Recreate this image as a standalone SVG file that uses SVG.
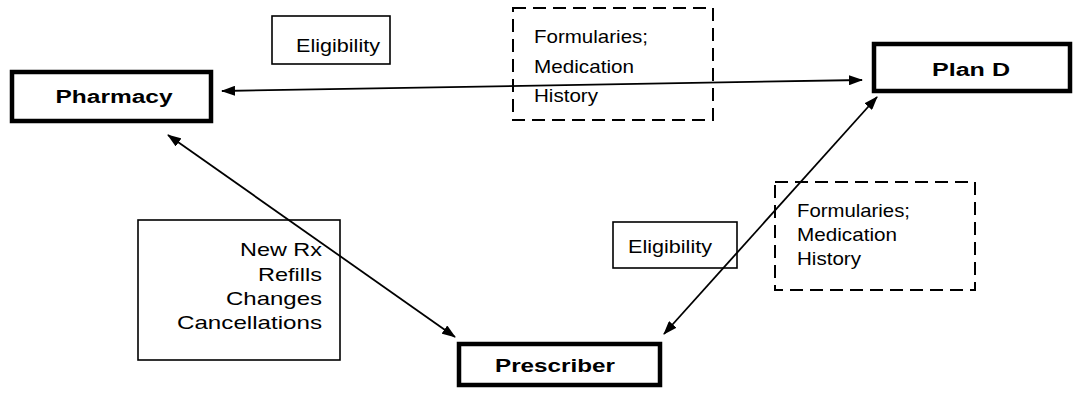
<svg xmlns="http://www.w3.org/2000/svg" width="1077" height="396" viewBox="0 0 1077 396">
<defs>
<style>
.bg{fill:#fff}
.main{fill:#fff;stroke:#000;stroke-width:4.5}
.lab{fill:none;stroke:#000;stroke-width:1.6}
.dash{fill:none;stroke:#000;stroke-width:2;stroke-dasharray:13 7}
.t{font-family:"Liberation Sans",Arial,sans-serif;font-size:19px;fill:#000}
.r{text-anchor:end}
.b{font-family:"Liberation Sans",Arial,sans-serif;font-size:18px;font-weight:bold;fill:#000;text-anchor:middle}
.c{fill:none;stroke:#000;stroke-width:1.8;marker-start:url(#ah);marker-end:url(#ah)}
</style>
<marker id="ah" viewBox="0 0 14 10" refX="13" refY="5" markerWidth="14" markerHeight="10" markerUnits="userSpaceOnUse" orient="auto-start-reverse">
<path d="M0,0 L14,5 L0,10 Z" fill="#000"/>
</marker>
</defs>
<rect class="bg" width="1077" height="396"/>
<g id="elig-top"><rect class="lab" x="272" y="16" width="118" height="48"/><text class="t" x="296" y="52" textLength="84" lengthAdjust="spacingAndGlyphs">Eligibility</text></g>
<g id="form-top"><rect class="dash" x="513" y="8" width="200" height="112"/><text class="t" x="534" y="43" textLength="114" lengthAdjust="spacingAndGlyphs">Formularies;</text><text class="t" x="534" y="73" textLength="100" lengthAdjust="spacingAndGlyphs">Medication</text><text class="t" x="534" y="102" textLength="64" lengthAdjust="spacingAndGlyphs">History</text></g>
<g id="newrx"><rect class="lab" x="138" y="220" width="202" height="140"/><text class="t r" x="322" y="256" textLength="82" lengthAdjust="spacingAndGlyphs">New Rx</text><text class="t r" x="322" y="281" textLength="64" lengthAdjust="spacingAndGlyphs">Refills</text><text class="t r" x="322" y="305" textLength="96" lengthAdjust="spacingAndGlyphs">Changes</text><text class="t r" x="322" y="329" textLength="145" lengthAdjust="spacingAndGlyphs">Cancellations</text></g>
<g id="elig-bot"><rect class="lab" x="613" y="222" width="124" height="46"/><text class="t" x="628" y="253" textLength="84" lengthAdjust="spacingAndGlyphs">Eligibility</text></g>
<g id="form-bot"><rect class="dash" x="775" y="182" width="200" height="108"/><text class="t" x="797" y="217" textLength="113" lengthAdjust="spacingAndGlyphs">Formularies;</text><text class="t" x="797" y="241" textLength="100" lengthAdjust="spacingAndGlyphs">Medication</text><text class="t" x="797" y="265" textLength="64" lengthAdjust="spacingAndGlyphs">History</text></g>
<g id="connectors">
<line class="c" x1="222" y1="91" x2="862" y2="80"/>
<line class="c" x1="168" y1="135" x2="455" y2="337"/>
<line class="c" x1="877" y1="97" x2="664" y2="334"/>
</g>
<g id="pharmacy"><rect class="main" x="12" y="72" width="199" height="49"/><text class="b" x="114" y="103" textLength="117" lengthAdjust="spacingAndGlyphs">Pharmacy</text></g>
<g id="pland"><rect class="main" x="874" y="44" width="196" height="47"/><text class="b" x="971" y="76" textLength="78" lengthAdjust="spacingAndGlyphs">Plan D</text></g>
<g id="prescriber"><rect class="main" x="459" y="344" width="201" height="41"/><text class="b" x="555" y="372" textLength="120" lengthAdjust="spacingAndGlyphs">Prescriber</text></g>
</svg>
